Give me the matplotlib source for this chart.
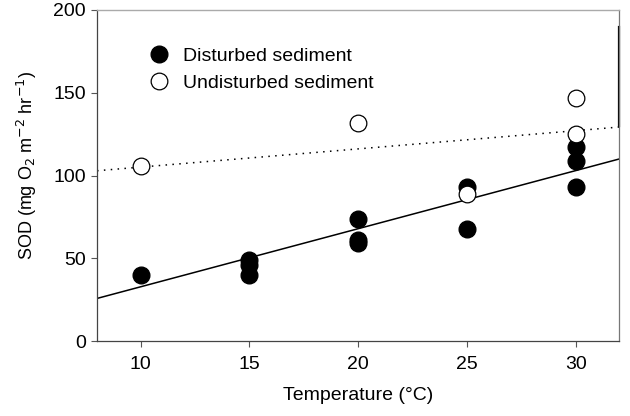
import matplotlib
matplotlib.use("Agg")
import numpy as np
import matplotlib.pyplot as plt

plt.rcParams['font.family'] = ['Liberation Sans', 'DejaVu Sans']

# Disturbed sediment (filled)
dist_temp = [10, 15, 15, 15, 20, 20, 20, 25, 25, 30, 30, 30]
dist_sod = [40, 49, 46, 40, 74, 61, 59, 93, 68, 117, 109, 93]

# Undisturbed sediment (open)
undist_temp = [10, 20, 25, 30, 30]
undist_sod = [106, 132, 89, 147, 125]

# regression lines: slope, intercept
dist_fit = [3.51, -2.3]
undist_fit = [1.1, 94.1]

fig, ax = plt.subplots(figsize=(6.3, 4.16), dpi=100)
fig.subplots_adjust(left=0.154, right=0.983, top=0.976, bottom=0.18)

xline = np.array([8, 32])
ax.plot(xline, np.polyval(dist_fit, xline), color='black', lw=1.1, zorder=2)
ax.plot(xline, np.polyval(undist_fit, xline), color='black', lw=1.1,
        linestyle=(0, (1, 3.5)), zorder=2)

ax.plot(dist_temp, dist_sod, 'o', color='black', markersize=12,
        linestyle='none', label='Disturbed sediment', zorder=3)
ax.plot(undist_temp, undist_sod, 'o', markerfacecolor='white',
        markeredgecolor='black', markeredgewidth=0.9, markersize=12,
        linestyle='none', label='Undisturbed sediment', zorder=4)

ax.set_xlim(8, 32)
ax.set_ylim(0, 200)
ax.set_xticks([10, 15, 20, 25, 30])
ax.set_yticks([0, 50, 100, 150, 200])
ax.tick_params(direction='out', length=4, width=0.8, labelsize=14,
               color='#555555', pad=4)
ax.tick_params(axis='x', pad=7)

for side in ['left', 'bottom']:
    ax.spines[side].set_color('#444444')
    ax.spines[side].set_linewidth(0.9)
ax.spines['top'].set_color('#aaaaaa')
ax.spines['right'].set_color('#777777')
ax.spines['top'].set_linewidth(1.0)
ax.spines['right'].set_linewidth(0.9)

# dark stretch on the right edge
ax.axvline(32, ymin=0.65, ymax=0.95, color='black', lw=1.6, clip_on=False)

ax.set_xlabel('Temperature (\u00b0C)', fontsize=14, labelpad=10)
ax.set_ylabel('SOD (mg O$_2$ m$^{-2}$ hr$^{-1}$)', fontsize=13, labelpad=10)
ax.yaxis.label.set_y(0.53)

ax.legend(loc='upper left', bbox_to_anchor=(0.085, 0.91), frameon=False,
          fontsize=14, handletextpad=0.75, labelspacing=0.45,
          borderaxespad=0, handlelength=1.0)

fig.savefig('out.png', dpi=100)
